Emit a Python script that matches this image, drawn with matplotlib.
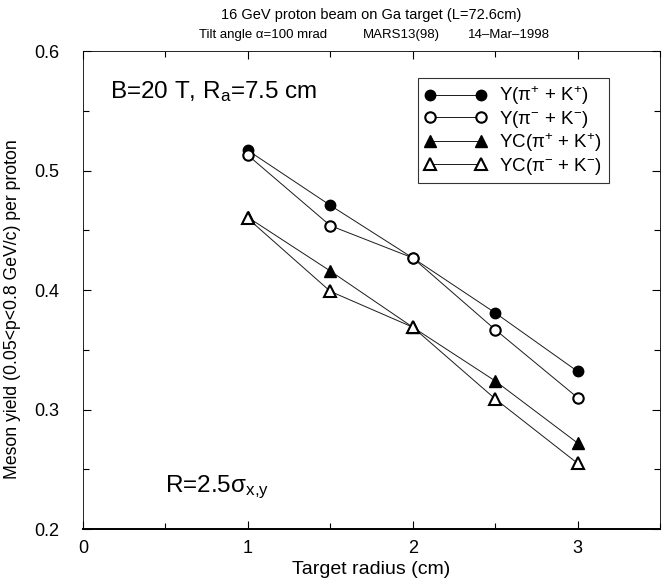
import matplotlib

matplotlib.use("Agg")
import matplotlib.pyplot as plt
from matplotlib.ticker import MultipleLocator

plt.rcParams["font.family"] = ["Liberation Sans", "DejaVu Sans"]
plt.rcParams["mathtext.fontset"] = "custom"
plt.rcParams["mathtext.rm"] = "Liberation Sans"
plt.rcParams["mathtext.it"] = "Liberation Sans:italic"
plt.rcParams["mathtext.bf"] = "Liberation Sans:bold"

# target radius (cm)
radius = [1.0, 1.5, 2.0, 2.5, 3.0]

# meson yields per proton
y_plus = [0.517, 0.471, 0.427, 0.381, 0.332]
y_minus = [0.513, 0.454, 0.427, 0.367, 0.310]
yc_plus = [0.461, 0.416, 0.369, 0.324, 0.272]
yc_minus = [0.460, 0.399, 0.369, 0.309, 0.255]

labels = [
    r"Y(π$^{+}$ + K$^{+}$)",
    r"Y(π$^{-}$ + K$^{-}$)",
    r"YC(π$^{+}$ + K$^{+}$)",
    r"YC(π$^{-}$ + K$^{-}$)",
]

fig = plt.figure(figsize=(6.62, 5.88), dpi=100)
ax = fig.add_axes([0.1254, 0.1003, 0.8716, 0.8125])

line_kw = dict(color="0.1", lw=0.7)
ax.plot(radius, y_plus, marker="o", ms=7.5, mfc="black", mec="black", label=labels[0], **line_kw)
ax.plot(radius, y_minus, marker="o", ms=7.5, mfc="white", mec="black", mew=1.5, label=labels[1], **line_kw)
ax.plot(radius, yc_plus, marker="^", ms=8.5, mfc="black", mec="black", label=labels[2], **line_kw)
ax.plot(radius, yc_minus, marker="^", ms=8.5, mfc="white", mec="black", mew=1.5, label=labels[3], **line_kw)

ax.set_xlim(0, 3.5)
ax.set_ylim(0.2, 0.6)
ax.xaxis.set_major_locator(MultipleLocator(1))
ax.xaxis.set_minor_locator(MultipleLocator(0.5))
ax.yaxis.set_major_locator(MultipleLocator(0.1))
ax.yaxis.set_minor_locator(MultipleLocator(0.05))
ax.tick_params(which="both", direction="in", top=True, right=True, labelsize=13)
ax.tick_params(which="major", length=6, width=0.8)
ax.tick_params(which="minor", length=4, width=0.8)
ax.tick_params(axis="x", pad=8)
ax.tick_params(axis="y", pad=17)

for side in ["left", "top", "right"]:
    ax.spines[side].set_linewidth(0.6)
ax.spines["bottom"].set_linewidth(1.4)

ax.set_xlabel("Target radius (cm)", fontsize=14)
ax.xaxis.set_label_coords(0.5, -0.066)
ax.set_ylabel("Meson yield (0.05<p<0.8 GeV/c) per proton", fontsize=12.7)
ax.yaxis.set_label_coords(-0.107, 0.46)

ax.text(0.047, 0.916, r"B=20 T, R$_{\mathrm{a}}$=7.5 cm", transform=ax.transAxes,
        fontsize=17.5, va="center")
ax.text(0.142, 0.088, r"R=2.5σ$_{\mathrm{x{,}y}}$", transform=ax.transAxes,
        fontsize=17.5, va="center")

leg = ax.legend(
    loc="upper left",
    bbox_to_anchor=(0.5806, 0.9435),
    fontsize=13.5,
    numpoints=2,
    frameon=True,
    fancybox=False,
    edgecolor="black",
    handlelength=3.3,
    handletextpad=0.7,
    borderpad=0.34,
    labelspacing=0.08,
    borderaxespad=0,
)
leg.get_frame().set_linewidth(0.8)

fig.text(0.561, 0.9745, "16 GeV proton beam on Ga target (L=72.6cm)",
         ha="center", va="center", fontsize=10.5)
fig.text(199 / 662, 0.9405, "Tilt angle α=100 mrad", ha="left", va="center", fontsize=9.5)
fig.text(363 / 662, 0.9405, "MARS13(98)", ha="left", va="center", fontsize=9.5)
fig.text(468 / 662, 0.9405, "14\u2013Mar\u20131998", ha="left", va="center", fontsize=9.5)

fig.savefig("out.png", dpi=100)
